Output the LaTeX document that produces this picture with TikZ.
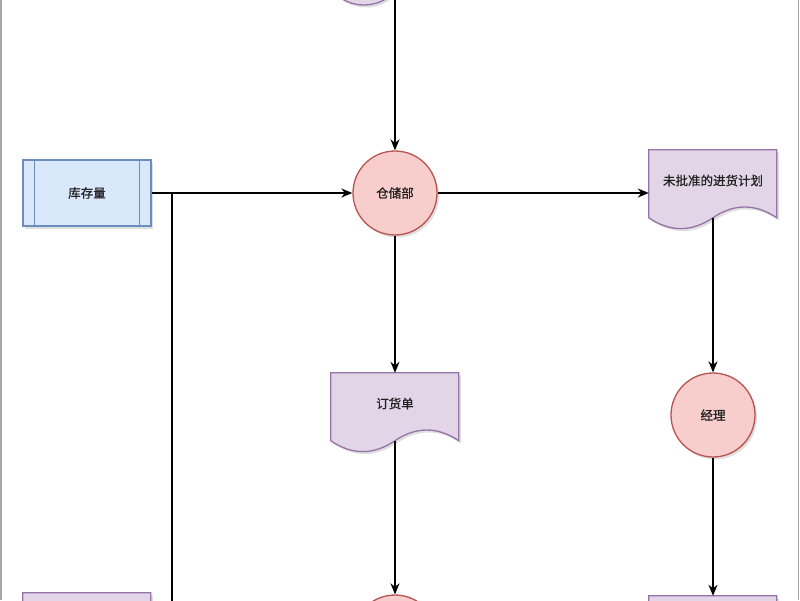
\documentclass[tikz,border=0pt]{standalone}
\usepackage{fontspec}
\newfontfamily\cjk[FakeBold=1]{Noto Sans CJK SC}
\usetikzlibrary{arrows.meta,shadows,backgrounds}
\definecolor{bluefill}{HTML}{DAE8FC}
\definecolor{bluestroke}{HTML}{6C8EBF}
\definecolor{redfill}{HTML}{F8CECC}
\definecolor{redstroke}{HTML}{B85450}
\definecolor{purplefill}{HTML}{E1D5E7}
\definecolor{purplestroke}{HTML}{9673A6}
\definecolor{txt}{HTML}{222222}
\tikzset{
 shad/.style={drop shadow={shadow xshift=2pt,shadow yshift=-2.5pt,opacity=0.25}},
 lbl/.style={font=\cjk\fontsize{12.5}{15}\selectfont, text=txt},
 proc/.style={rectangle, draw=bluestroke, fill=bluefill, line width=1.3pt, minimum width=128pt, minimum height=66pt, shad, lbl},
 circ/.style={circle, draw=redstroke, fill=redfill, line width=1.3pt, minimum size=84pt, inner sep=0pt, shad, lbl},
 docbox/.style={rectangle, minimum width=128pt, minimum height=80pt, inner sep=0pt, text depth=20pt, lbl},
 docline/.style={draw=purplestroke, fill=purplefill, line width=1.3pt, shad},
 flow/.style={draw=black, line width=1.5pt, -{Stealth[length=11pt,width=9pt,inset=3.5pt]}},
 wire/.style={draw=black, line width=1.5pt},
 frame/.style={draw=black!35, line width=1.2pt},
}
\newcommand\docoutline[1]{%
 \begin{scope}[on background layer, shift={(#1.north west)}]
 \path[docline] (0,0) -- (128,0) -- (128,68) .. controls (106.67,53.6) and (85.33,53.6) .. (64,68) .. controls (42.67,82.4) and (21.33,82.4) .. (0,68) -- cycle;
 \end{scope}}
\begin{document}
\begin{tikzpicture}[x=1pt,y=-1pt]
\useasboundingbox (0,0) rectangle (800,600);
\begin{scope}[on background layer]
\fill[white] (0,0) rectangle (800,600);
\end{scope}
% nodes
\node[circ, draw=purplestroke, fill=purplefill] (c0) at (364,-37) {};
\node[proc] (stock) at (87,193) {库存量};
\draw[bluestroke, line width=1.3pt] ([xshift=12pt]stock.north west) -- ([xshift=12pt]stock.south west)
  ([xshift=-12pt]stock.north east) -- ([xshift=-12pt]stock.south east);
\node[circ] (store) at (395,193) {仓储部};
\node[docbox] (plan) at (713,190) {未批准的进货计划};
\docoutline{plan}
\node[circ] (mgr) at (713,415) {经理};
\node[docbox] (order) at (395,413) {订货单};
\docoutline{order}
\node[circ] (c3) at (395,637) {};
\node[docbox] (d4) at (713,636) {};
\docoutline{d4}
\node[docbox] (d5) at (87,633) {};
\docoutline{d5}
% connectors
\coordinate (topin) at (395,-20);
\draw[flow] (topin) -- (store.north);
\draw[flow] (stock.east) -- (store.west);
\coordinate (j) at (172,193);
\coordinate (jdown) at (172,620);
\draw[wire] (j) -- (jdown);
\draw[flow] (store.east) -- (store.east -| plan.west);
\draw[flow] (store.south) -- (order.north);
\draw[flow] ([yshift=12pt]plan.south) -- (mgr.north);
\draw[flow] ([yshift=12pt]order.south) -- (c3.north);
\draw[flow] (mgr.south) -- (d4.north);
% frame
\draw[frame] (1,0) -- (1,600);
\draw[frame] (798.5,0) -- (798.5,600);
\end{tikzpicture}
\end{document}
